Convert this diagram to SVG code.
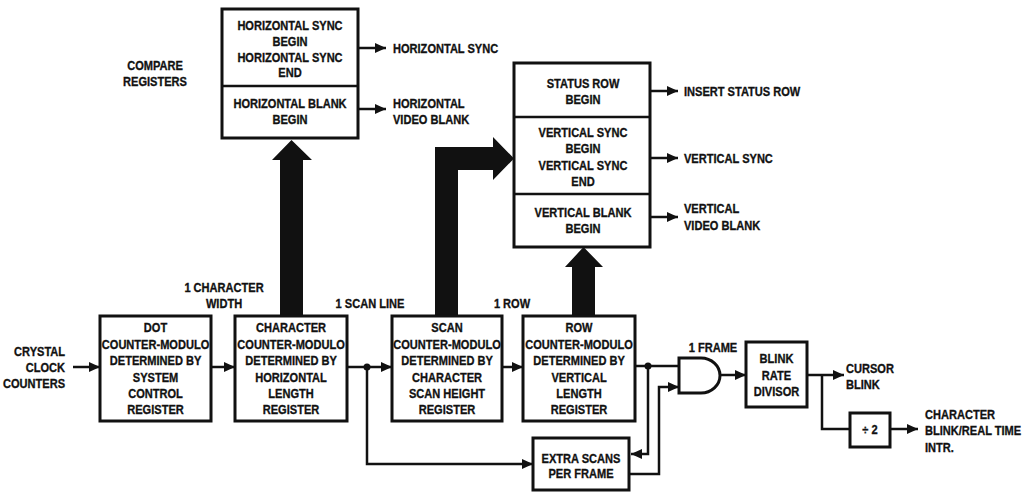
<svg xmlns="http://www.w3.org/2000/svg" width="1032" height="493" viewBox="0 0 1032 493">
<defs>
<style>
text{font-family:"Liberation Sans",Arial,sans-serif;font-weight:bold;font-size:13.5px;fill:#111;stroke:#111;stroke-width:0.35;transform-box:fill-box;transform:scaleX(0.82);transform-origin:left center}
.c{text-anchor:middle;transform-origin:center}
.r{text-anchor:end;transform-origin:right center}
.box{fill:#fff;stroke:#111;stroke-width:3}
.div{stroke:#111;stroke-width:2.5}
.w{fill:none;stroke:#111;stroke-width:2.5}
.big{fill:#111}
</style>
<marker id="ah" markerUnits="userSpaceOnUse" markerWidth="11" markerHeight="10" refX="11" refY="5" orient="auto">
<path d="M0,0 L11,5 L0,10 z" fill="#111"/>
</marker>
</defs>
<rect width="1032" height="493" fill="#fff"/>

<g id="connectors">
<polygon class="big" points="280,316 280,160 272,160 291.5,140 312,160 303,160 303,316"/>
<polygon class="big" points="435,316 435,147 493,147 493,137 514,158.5 493,180 493,170 458,170 458,316"/>
<polygon class="big" points="572,316 572,267 565,267 583.5,247 603,267 595,267 595,316"/>
<line class="w" x1="73" y1="367" x2="100" y2="367" marker-end="url(#ah)"/>
<line class="w" x1="211" y1="367" x2="235" y2="367" marker-end="url(#ah)"/>
<line class="w" x1="347" y1="367" x2="392" y2="367" marker-end="url(#ah)"/>
<polyline class="w" points="367,367 367,464 533,464" marker-end="url(#ah)"/>
<circle cx="367" cy="367" r="3.5" fill="#111"/>
<line class="w" x1="502" y1="367" x2="523" y2="367" marker-end="url(#ah)"/>
<line class="w" x1="635" y1="366" x2="680" y2="366"/>
<circle cx="648" cy="366" r="3.5" fill="#111"/>
<polyline class="w" points="648,366 648,454 631,454" marker-end="url(#ah)"/>
<polyline class="w" points="629,474 659,474 659,387 679,387" marker-end="url(#ah)"/>
<line class="w" x1="720" y1="375" x2="746" y2="375" marker-end="url(#ah)"/>
<line class="w" x1="807" y1="375" x2="844" y2="375" marker-end="url(#ah)"/>
<polyline class="w" points="822,375 822,429 850,429"/>
<line class="w" x1="890" y1="429" x2="918" y2="429" marker-end="url(#ah)"/>
<line class="w" x1="358" y1="48" x2="386" y2="48" marker-end="url(#ah)"/>
<line class="w" x1="358" y1="109" x2="386" y2="109" marker-end="url(#ah)"/>
<line class="w" x1="650" y1="91" x2="678" y2="91" marker-end="url(#ah)"/>
<line class="w" x1="650" y1="158" x2="678" y2="158" marker-end="url(#ah)"/>
<line class="w" x1="650" y1="217" x2="678" y2="217" marker-end="url(#ah)"/>
</g>

<g id="hcompare">
<rect class="box" x="222" y="9" width="136" height="129"/>
<line class="div" x1="222" y1="86" x2="358" y2="86"/>
<text class="c" x="290" y="30">HORIZONTAL SYNC</text>
<text class="c" x="290" y="46">BEGIN</text>
<text class="c" x="290" y="62">HORIZONTAL SYNC</text>
<text class="c" x="290" y="77">END</text>
<text class="c" x="290" y="108">HORIZONTAL BLANK</text>
<text class="c" x="290" y="124">BEGIN</text>
</g>

<g id="vcompare">
<rect class="box" x="514" y="63" width="136" height="184"/>
<line class="div" x1="514" y1="117" x2="650" y2="117"/>
<line class="div" x1="514" y1="194" x2="650" y2="194"/>
<text class="c" x="583" y="88">STATUS ROW</text>
<text class="c" x="583" y="104">BEGIN</text>
<text class="c" x="583" y="137">VERTICAL SYNC</text>
<text class="c" x="583" y="153">BEGIN</text>
<text class="c" x="583" y="170">VERTICAL SYNC</text>
<text class="c" x="583" y="186">END</text>
<text class="c" x="583" y="217">VERTICAL BLANK</text>
<text class="c" x="583" y="233">BEGIN</text>
</g>

<g id="labels">
<text class="c" x="155" y="70">COMPARE</text>
<text class="c" x="155" y="86">REGISTERS</text>
<text x="393" y="53">HORIZONTAL SYNC</text>
<text x="393" y="108">HORIZONTAL</text>
<text x="393" y="124">VIDEO BLANK</text>
<text x="684" y="96">INSERT STATUS ROW</text>
<text x="684" y="163">VERTICAL SYNC</text>
<text x="684" y="213">VERTICAL</text>
<text x="684" y="230">VIDEO BLANK</text>
<text class="c" x="224" y="292">1 CHARACTER</text>
<text class="c" x="224" y="308">WIDTH</text>
<text class="c" x="370" y="308">1 SCAN LINE</text>
<text class="c" x="512" y="308">1 ROW</text>
<text class="c" x="713" y="352">1 FRAME</text>
<text class="r" x="65" y="356">CRYSTAL</text>
<text class="r" x="65" y="372">CLOCK</text>
<text class="r" x="65" y="388">COUNTERS</text>
<text x="846" y="373">CURSOR</text>
<text x="846" y="389">BLINK</text>
<text x="925" y="419">CHARACTER</text>
<text x="925" y="435">BLINK/REAL TIME</text>
<text x="925" y="452">INTR.</text>
</g>

<g id="dot">
<rect class="box" x="100" y="316" width="111" height="105"/>
<text class="c" x="155.5" y="332">DOT</text>
<text class="c" x="155.5" y="349">COUNTER-MODULO</text>
<text class="c" x="155.5" y="365">DETERMINED BY</text>
<text class="c" x="155.5" y="382">SYSTEM</text>
<text class="c" x="155.5" y="398">CONTROL</text>
<text class="c" x="155.5" y="414">REGISTER</text>
</g>

<g id="character">
<rect class="box" x="235" y="316" width="112" height="105"/>
<text class="c" x="291" y="332">CHARACTER</text>
<text class="c" x="291" y="349">COUNTER-MODULO</text>
<text class="c" x="291" y="365">DETERMINED BY</text>
<text class="c" x="291" y="382">HORIZONTAL</text>
<text class="c" x="291" y="398">LENGTH</text>
<text class="c" x="291" y="414">REGISTER</text>
</g>

<g id="scan">
<rect class="box" x="392" y="316" width="110" height="105"/>
<text class="c" x="447" y="332">SCAN</text>
<text class="c" x="447" y="349">COUNTER-MODULO</text>
<text class="c" x="447" y="365">DETERMINED BY</text>
<text class="c" x="447" y="382">CHARACTER</text>
<text class="c" x="447" y="398">SCAN HEIGHT</text>
<text class="c" x="447" y="414">REGISTER</text>
</g>

<g id="row">
<rect class="box" x="523" y="316" width="112" height="105"/>
<text class="c" x="579" y="332">ROW</text>
<text class="c" x="579" y="349">COUNTER-MODULO</text>
<text class="c" x="579" y="365">DETERMINED BY</text>
<text class="c" x="579" y="382">VERTICAL</text>
<text class="c" x="579" y="398">LENGTH</text>
<text class="c" x="579" y="414">REGISTER</text>
</g>

<g id="extra">
<rect class="box" x="533" y="438" width="96" height="52"/>
<text class="c" x="581" y="463">EXTRA SCANS</text>
<text class="c" x="581" y="478">PER FRAME</text>
</g>

<g id="and">
<path class="box" d="M679,358 L701,358 A19,17.5 0 0 1 701,393 L679,393 Z"/>
</g>

<g id="blink">
<rect class="box" x="746" y="342" width="61" height="65"/>
<text class="c" x="776.5" y="363">BLINK</text>
<text class="c" x="776.5" y="380">RATE</text>
<text class="c" x="776.5" y="396">DIVISOR</text>
</g>

<g id="div2">
<rect class="box" x="850" y="413" width="40" height="34"/>
<text class="c" x="870" y="434">÷ 2</text>
</g>
</svg>
